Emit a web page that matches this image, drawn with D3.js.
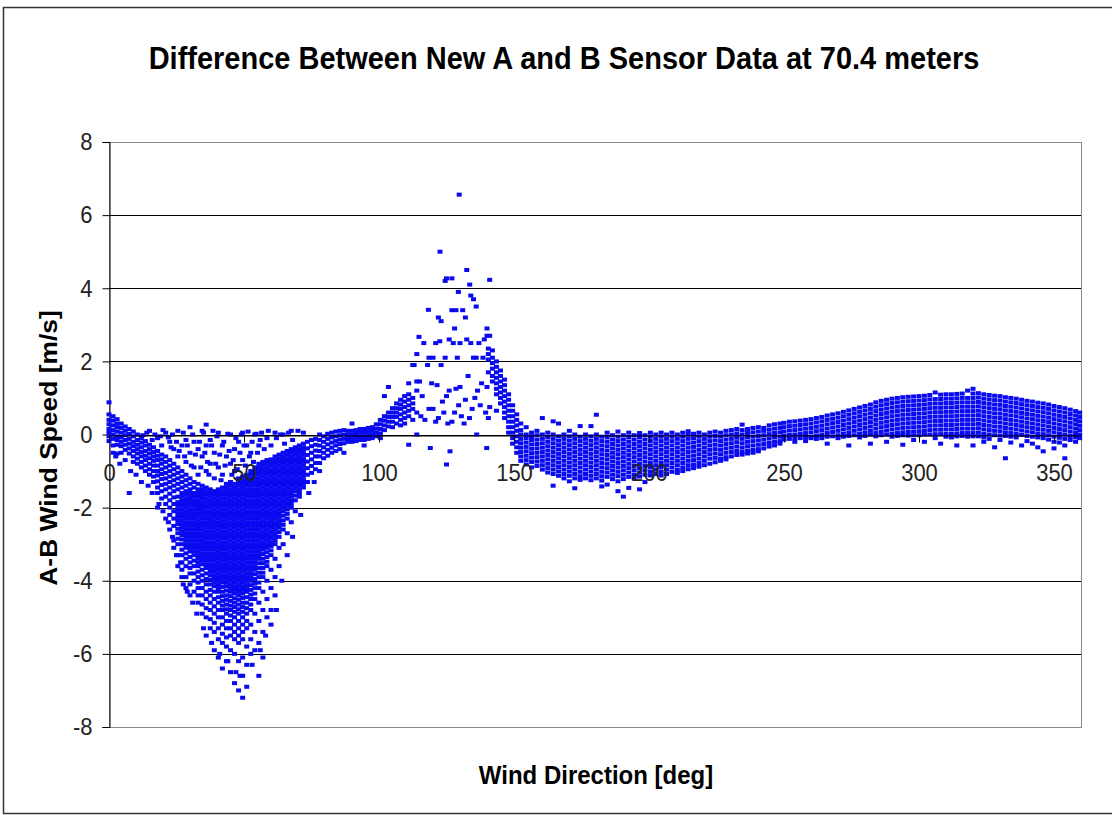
<!DOCTYPE html>
<html>
<head>
<meta charset="utf-8">
<script src="https://cdn.jsdelivr.net/npm/d3@7/dist/d3.min.js"></script>
<style>
  html, body { margin: 0; padding: 0; background: #fff; }
  svg { display: block; font-family: "Liberation Sans", Arial, sans-serif; }
</style>
</head>
<body>
<svg id="chart"></svg>
<script>
// ticks
const xTicks = [0, 50, 100, 150, 200, 250, 300, 350];
const yTicks = [-8, -6, -4, -2, 0, 2, 4, 6, 8];

// scatter, grouped by wind direction column: [deg, [A-B values]]
const dipColumns = [
  [0, [0.88, 0.55, 0.4, 0.28, 0.15, 0.05, -0.05, -0.18]],
  [1.5, [0.5, 0.38, 0.25, 0.12, 0.0, -0.12, -0.3, -0.5]],
  [3, [0.42, 0.3, 0.2, 0.08, -0.05, -0.15, -0.28, -0.52]],
  [4.5, [0.3, 0.18, 0.05, -0.08, -0.2, -0.32, -0.5]],
  [6, [0.22, 0.1, -0.02, -0.15, -0.28, -0.42]],
  [7.5, [0.15, 0.02, -0.12, -0.25, -0.38, -0.52, -1.6]],
  [9, [0.08, -0.05, -0.2, -0.32, -0.45, -0.6, -0.75]],
  [10.5, [0.0, -0.15, -0.28, -0.4, -0.52, -0.66, -0.8]],
  [12, [-0.1, -0.22, -0.35, -0.48, -0.6, -0.75, -0.9, -1.3]],
  [13.5, [-0.18, -0.3, -0.45, -0.58, -0.7, -0.85, -1.0]],
  [15, [0.1, -0.28, -0.4, -0.52, -0.65, -0.8, -0.95, -1.1]],
  [16.5, [-0.35, -0.48, -0.6, -0.72, -0.85, -1.0, -1.15, -1.3]],
  [18, [-0.1, -0.45, -0.58, -0.7, -0.85, -1.0, -1.12, -1.28, -1.45, -1.6, -2.0]],
  [19.5, [-0.3, -0.55, -0.68, -0.8, -0.95, -1.08, -1.22, -1.38, -1.55, -1.75]],
  [21, [0.05, -0.6, -0.75, -0.9, -1.05, -1.2, -1.35, -1.5, -1.7, -1.9, -2.3]],
  [22.5, [-0.2, -0.7, -0.85, -1.0, -1.15, -1.3, -1.45, -1.62, -1.8, -2.0, -2.2, -2.6]],
  [24, [-0.4, -0.8, -0.95, -1.1, -1.25, -1.4, -1.55, -1.72, -1.9, -2.1, -2.3, -2.5, -2.9, -3.1]],
  [25.5, [0.1, -0.6, -0.9, -1.05, -1.2, -1.35, -1.5, -1.7, -1.85, -2.05, -2.25, -2.45, -2.7, -3.0]],
  [27, [-0.3, -1.0, -1.15, -1.3, -1.45, -1.6, -1.8, -1.95, -2.15, -2.35, -2.55, -2.75, -3.0, -3.3, -3.7]],
  [28.5, [-0.15, -0.75, -1.1, -1.25, -1.4, -1.55, -1.75, -1.9, -2.1, -2.3, -2.5, -2.7, -2.9, -3.1, -3.4, -3.9]],
  [30, [0.2, -0.5, -1.2, -1.35, -1.5, -1.7, -1.85, -2.05, -2.2, -2.4, -2.6, -2.8, -3.0, -3.2, -3.5, -3.8]],
  [31.5, [-0.2, -0.9, -1.3, -1.45, -1.6, -1.8, -1.95, -2.15, -2.3, -2.5, -2.7, -2.9, -3.1, -3.3, -3.6, -4.0, -4.3]],
  [33, [-0.4, -1.1, -1.35, -1.5, -1.7, -1.9, -2.05, -2.25, -2.45, -2.6, -2.8, -3.0, -3.2, -3.4, -3.6, -3.9, -4.2, -4.6]],
  [34.5, [0.1, -0.6, -1.4, -1.6, -1.75, -1.95, -2.1, -2.3, -2.5, -2.7, -2.9, -3.05, -3.25, -3.45, -3.7, -4.0, -4.4, -4.9]],
  [36, [0.27, -0.3, -1.0, -1.45, -1.65, -1.85, -2.0, -2.2, -2.4, -2.55, -2.75, -2.95, -3.15, -3.35, -3.55, -3.8, -4.1, -4.5, -5.0, -5.5]],
  [37.5, [-0.15, -0.8, -1.5, -1.7, -1.9, -2.1, -2.3, -2.45, -2.65, -2.85, -3.05, -3.25, -3.45, -3.65, -3.85, -4.1, -4.4, -4.8, -5.3]],
  [39, [-0.5, -1.2, -1.55, -1.75, -1.95, -2.15, -2.35, -2.55, -2.75, -2.95, -3.15, -3.35, -3.55, -3.75, -3.95, -4.15, -4.5, -4.9, -5.4, -5.9]],
  [40.5, [0.05, -0.9, -1.5, -1.7, -1.9, -2.1, -2.3, -2.5, -2.7, -2.9, -3.1, -3.3, -3.5, -3.7, -3.9, -4.1, -4.3, -4.6, -5.0, -5.6, -6.1]],
  [42, [-0.3, -1.1, -1.45, -1.65, -1.85, -2.05, -2.25, -2.45, -2.65, -2.85, -3.05, -3.25, -3.45, -3.65, -3.85, -4.05, -4.3, -4.55, -4.8, -5.2, -5.7, -6.4]],
  [43.5, [-0.6, -1.35, -1.55, -1.75, -1.95, -2.15, -2.35, -2.55, -2.75, -2.95, -3.15, -3.35, -3.55, -3.75, -3.95, -4.15, -4.4, -4.65, -4.9, -5.3, -5.8, -6.2]],
  [45, [0.0, -0.8, -1.3, -1.5, -1.7, -1.9, -2.1, -2.3, -2.5, -2.7, -2.9, -3.1, -3.3, -3.5, -3.7, -3.9, -4.1, -4.3, -4.55, -4.8, -5.1, -5.5, -5.9, -6.5]],
  [46.5, [-0.4, -1.0, -1.35, -1.55, -1.75, -1.95, -2.15, -2.35, -2.55, -2.75, -2.95, -3.15, -3.35, -3.55, -3.75, -3.95, -4.15, -4.35, -4.6, -4.85, -5.2, -5.6, -6.0, -6.8]],
  [48, [-0.2, -1.2, -1.4, -1.6, -1.8, -2.0, -2.2, -2.4, -2.6, -2.8, -3.0, -3.2, -3.4, -3.6, -3.8, -4.0, -4.2, -4.4, -4.65, -4.9, -5.3, -5.7, -6.2, -7.0]],
  [49.5, [0.05, -0.7, -1.15, -1.35, -1.55, -1.75, -1.95, -2.15, -2.35, -2.55, -2.75, -2.95, -3.15, -3.35, -3.55, -3.75, -3.95, -4.15, -4.35, -4.6, -4.85, -5.2, -5.6, -6.1, -6.6, -7.2]],
  [51, [-0.3, -1.1, -1.3, -1.5, -1.7, -1.9, -2.1, -2.3, -2.5, -2.7, -2.9, -3.1, -3.3, -3.5, -3.7, -3.9, -4.1, -4.3, -4.6, -4.9, -5.3, -5.8, -6.3, -6.9]],
  [52.5, [-0.5, -1.0, -1.2, -1.4, -1.6, -1.8, -2.0, -2.2, -2.4, -2.6, -2.8, -3.0, -3.2, -3.4, -3.6, -3.8, -4.0, -4.25, -4.5, -4.8, -5.2, -5.6, -6.0]],
  [54, [0.0, -0.9, -1.1, -1.3, -1.5, -1.7, -1.9, -2.1, -2.3, -2.5, -2.7, -2.9, -3.1, -3.3, -3.5, -3.7, -3.95, -4.2, -4.5, -4.9, -5.4, -5.9]],
  [55.5, [-0.3, -0.8, -1.0, -1.2, -1.4, -1.6, -1.8, -2.0, -2.2, -2.4, -2.6, -2.8, -3.0, -3.2, -3.4, -3.65, -3.9, -4.2, -4.6, -5.1, -5.7, -6.6]],
  [57, [-0.75, -0.95, -1.15, -1.35, -1.55, -1.75, -1.95, -2.15, -2.35, -2.55, -2.75, -2.95, -3.15, -3.4, -3.65, -3.9, -4.3, -4.8, -5.4, -6.1]],
  [58.5, [-0.1, -0.7, -0.9, -1.1, -1.3, -1.5, -1.7, -1.9, -2.1, -2.3, -2.5, -2.7, -2.9, -3.1, -3.35, -3.6, -4.0, -4.5, -5.0]],
  [60, [-0.68, -0.85, -1.05, -1.25, -1.45, -1.65, -1.85, -2.05, -2.25, -2.45, -2.65, -2.85, -3.05, -3.3, -3.7, -4.2, -4.8]],
  [61.5, [0.05, -0.6, -0.8, -1.0, -1.2, -1.4, -1.6, -1.8, -2.0, -2.2, -2.4, -2.6, -2.8, -3.0, -3.4, -3.9, -4.4]],
  [63, [-0.55, -0.75, -0.95, -1.15, -1.35, -1.55, -1.75, -1.95, -2.15, -2.35, -2.55, -2.8, -3.1, -3.6]],
  [64.5, [0.0, -0.5, -0.7, -0.9, -1.1, -1.3, -1.5, -1.7, -1.9, -2.1, -2.35, -2.6, -3.0]],
  [66, [-0.45, -0.65, -0.85, -1.05, -1.25, -1.45, -1.65, -1.85, -2.05, -2.3, -2.7]],
  [67.5, [0.1, -0.4, -0.6, -0.8, -1.0, -1.2, -1.4, -1.6, -1.8, -2.0, -2.4]],
  [69, [-0.35, -0.55, -0.75, -0.95, -1.15, -1.35, -1.55, -1.8, -2.1]],
  [70.5, [-0.3, -0.5, -0.7, -0.9, -1.1, -1.3, -1.5, -1.7]],
  [72, [0.05, -0.25, -0.45, -0.65, -0.85, -1.05, -1.25, -1.45]],
  [73.5, [-0.2, -0.38, -0.56, -0.74, -0.92, -1.1, -1.3]],
  [75, [-0.15, -0.32, -0.5, -0.68, -0.86, -1.05]],
  [76.5, [-0.12, -0.28, -0.44, -0.6, -0.78, -0.95]],
  [78, [0.0, -0.15, -0.3, -0.45, -0.6, -0.78]],
  [79.5, [-0.05, -0.2, -0.35, -0.5, -0.65]],
  [81, [0.02, -0.12, -0.27, -0.42, -0.58]],
  [82.5, [0.05, -0.08, -0.22, -0.36, -0.5]],
  [84, [0.08, -0.05, -0.18, -0.3, -0.45]],
  [85.5, [0.1, -0.02, -0.14, -0.26, -0.4]],
  [87, [0.12, 0.0, -0.12, -0.24, -0.5]]
];

// the packed core of the dip, between the rows above
const dipCoreColumns = [
  [25.5, [-1.95, -2.15, -2.35, -2.58, -2.85, -3.3, -3.6]],
  [27, [-1.7, -1.87, -2.05, -2.25, -2.45, -2.65, -2.87, -3.15, -3.5, -3.9]],
  [28.5, [-1.65, -1.83, -2.0, -2.2, -2.4, -2.6, -2.8, -3.0, -3.25, -3.6, -4.2]],
  [30, [-1.6, -1.78, -1.95, -2.12, -2.3, -2.5, -2.7, -2.9, -3.1, -3.35, -3.65, -4.1, -4.4]],
  [31.5, [-1.7, -1.88, -2.05, -2.22, -2.4, -2.6, -2.8, -3.0, -3.2, -3.45, -3.8]],
  [33, [-1.6, -1.8, -1.98, -2.15, -2.35, -2.52, -2.7, -2.9, -3.1, -3.3, -3.5, -3.75, -4.05, -4.4]],
  [34.5, [-1.5, -1.68, -1.85, -2.02, -2.2, -2.4, -2.6, -2.8, -2.98, -3.15, -3.35, -3.55, -3.85, -4.2, -4.65]],
  [36, [-1.55, -1.75, -1.92, -2.1, -2.3, -2.48, -2.65, -2.85, -3.05, -3.25, -3.45, -3.65, -3.95, -4.3, -4.75]],
  [37.5, [-1.6, -1.8, -2.0, -2.2, -2.38, -2.55, -2.75, -2.95, -3.15, -3.35, -3.55, -3.75, -3.97, -4.25, -4.6, -5.05]],
  [39, [-1.65, -1.85, -2.05, -2.25, -2.45, -2.65, -2.85, -3.05, -3.25, -3.45, -3.65, -3.85, -4.05, -4.3, -4.7, -5.15]],
  [40.5, [-1.6, -1.8, -2.0, -2.2, -2.4, -2.6, -2.8, -3.0, -3.2, -3.4, -3.6, -3.8, -4.0, -4.2, -4.45, -4.8, -5.3]],
  [42, [-1.55, -1.75, -1.95, -2.15, -2.35, -2.55, -2.75, -2.95, -3.15, -3.35, -3.55, -3.75, -3.95, -4.17, -4.42, -4.68, -5.0, -5.45]],
  [43.5, [-1.45, -1.65, -1.85, -2.05, -2.25, -2.45, -2.65, -2.85, -3.05, -3.25, -3.45, -3.65, -3.85, -4.05, -4.27, -4.52, -4.78, -5.1, -5.55]],
  [45, [-1.4, -1.6, -1.8, -2.0, -2.2, -2.4, -2.6, -2.8, -3.0, -3.2, -3.4, -3.6, -3.8, -4.0, -4.2, -4.42, -4.68, -4.95, -5.3]],
  [46.5, [-1.45, -1.65, -1.85, -2.05, -2.25, -2.45, -2.65, -2.85, -3.05, -3.25, -3.45, -3.65, -3.85, -4.05, -4.25, -4.48, -4.72, -5.0, -5.4]],
  [48, [-1.3, -1.5, -1.7, -1.9, -2.1, -2.3, -2.5, -2.7, -2.9, -3.1, -3.3, -3.5, -3.7, -3.9, -4.1, -4.3, -4.52, -4.78, -5.1, -5.5]],
  [49.5, [-1.25, -1.45, -1.65, -1.85, -2.05, -2.25, -2.45, -2.65, -2.85, -3.05, -3.25, -3.45, -3.65, -3.85, -4.05, -4.25, -4.47, -4.72, -5.0, -5.4]],
  [51, [-1.2, -1.4, -1.6, -1.8, -2.0, -2.2, -2.4, -2.6, -2.8, -3.0, -3.2, -3.4, -3.6, -3.8, -4.0, -4.2, -4.45, -4.75, -5.1]],
  [52.5, [-1.1, -1.3, -1.5, -1.7, -1.9, -2.1, -2.3, -2.5, -2.7, -2.9, -3.1, -3.3, -3.5, -3.7, -3.9, -4.12, -4.38, -4.65]],
  [54, [-1.0, -1.2, -1.4, -1.6, -1.8, -2.0, -2.2, -2.4, -2.6, -2.8, -3.0, -3.2, -3.4, -3.6, -3.82, -4.08, -4.35]],
  [55.5, [-0.9, -1.1, -1.3, -1.5, -1.7, -1.9, -2.1, -2.3, -2.5, -2.7, -2.9, -3.1, -3.3, -3.52, -3.78, -4.05]],
  [57, [-0.85, -1.05, -1.25, -1.45, -1.65, -1.85, -2.05, -2.25, -2.45, -2.65, -2.85, -3.05, -3.27, -3.52, -3.78]],
  [58.5, [-0.8, -1.0, -1.2, -1.4, -1.6, -1.8, -2.0, -2.2, -2.4, -2.6, -2.8, -3.0, -3.22, -3.48]],
  [60, [-0.76, -0.95, -1.15, -1.35, -1.55, -1.75, -1.95, -2.15, -2.35, -2.55, -2.75, -2.95, -3.17]],
  [61.5, [-0.7, -0.9, -1.1, -1.3, -1.5, -1.7, -1.9, -2.1, -2.3, -2.5, -2.7, -2.9]],
  [63, [-0.65, -0.85, -1.05, -1.25, -1.45, -1.65, -1.85, -2.05, -2.25, -2.45, -2.67]],
  [64.5, [-0.6, -0.8, -1.0, -1.2, -1.4, -1.6, -1.8, -2.0, -2.22, -2.47]],
  [66, [-0.55, -0.75, -0.95, -1.15, -1.35, -1.55, -1.75, -1.95, -2.17]],
  [67.5, [-0.5, -0.7, -0.9, -1.1, -1.3, -1.5, -1.7, -1.9]],
  [69, [-0.45, -0.65, -0.85, -1.05, -1.25, -1.45, -1.67]],
  [70.5, [-0.4, -0.6, -0.8, -1.0, -1.2, -1.4, -1.6]],
  [72, [-0.35, -0.55, -0.75, -0.95, -1.15, -1.35]]
];

// loose points around the dip: [deg, value]
const dipScatter = [
  [2.5, -0.6], [4, -0.8], [6, -0.7], [8, -1.0], [10, -1.1], [12.5, -0.02], [14, 0.05], [14.5, -1.4],
  [16, -0.15], [16, -1.6], [17, 0.0], [18.5, -1.9], [19, -0.05], [20, 0.12], [20, -2.1], [22, -0.08],
  [22, -2.4], [23, -0.35], [23.5, 0.0], [23.5, -2.8], [25, -0.2], [25, -3.3], [26, -0.45], [26.5, -3.5],
  [27.5, 0.05], [27.5, -4.1], [28, -0.6], [29, -0.3], [29, -4.3], [30.5, -0.85], [31, 0.0], [31, -4.6],
  [32, -0.55], [32.5, -4.9], [33.5, -0.2], [34, -0.9], [35, 0.05], [35, -5.3], [35.5, -0.5], [36.5, -0.75],
  [37, -1.1], [38, -0.3], [38, -5.7], [38.5, 0.1], [39.5, -0.8], [40, -0.05], [41, -0.55], [41, -6.0],
  [41.5, -1.25], [42.5, -0.2], [43, -0.85], [44, 0.02], [44, -6.2], [44.5, -0.45], [45.5, -1.1], [46, -0.7],
  [47, -0.1], [47, -6.5], [47.5, -0.95], [48.5, -0.5], [48.5, -6.6], [49, 0.0], [50, -0.3], [50.5, -0.85],
  [51.5, 0.08], [52, -0.6], [53, -0.2], [53, -6.3], [53.5, -0.75], [54.5, 0.02], [55, -0.5], [56, -0.15],
  [56, -5.9], [56.5, 0.05], [57.5, -0.4], [58, -5.5], [59, 0.1], [60, -0.3], [60, -5.2], [62, -0.1],
  [62, -4.8], [63.5, 0.0], [64, -4.0], [65, -0.25], [66, -3.3], [66.5, 0.05], [68, -0.15], [68, -2.8],
  [70, 0.1], [71, -2.2], [74, -1.6], [76, -1.3], [78, -1.0]
];

const humpColumns = [
  [88.5, [0.1, 0.0, -0.1, -0.2]],
  [90, [0.3, 0.1, 0.0, -0.1, -0.2]],
  [91.5, [0.12, 0.02, -0.08, -0.18]],
  [93, [0.15, 0.05, -0.05, -0.15]],
  [94.5, [0.15, 0.05, -0.05, -0.15, -0.3]],
  [96, [0.18, 0.08, -0.02, -0.12]],
  [97.5, [0.2, 0.1, 0.0, -0.1]],
  [99, [0.28, 0.16, 0.05, -0.05]],
  [100.5, [0.4, 0.28, 0.15, 0.03, -0.1]],
  [102, [1.05, 0.5, 0.38, 0.25, 0.12]],
  [103.5, [1.3, 0.6, 0.48, 0.35, 0.22]],
  [105, [0.72, 0.6, 0.48, 0.35, 0.2]],
  [106.5, [0.85, 0.72, 0.6, 0.48, 0.3]],
  [108, [0.95, 0.82, 0.7, 0.55, 0.4, 0.25]],
  [109.5, [1.05, 0.9, 0.75, 0.6, 0.45, 0.3]],
  [111, [1.4, 1.1, 0.95, 0.8, 0.65, 0.5, -0.28]],
  [112.5, [1.9, 1.0, 0.85, 0.7, 0.4]],
  [114, [2.2, 1.45, 1.2, 0.6, 0.0]],
  [140.5, [2.35, 2.2, 2.05, 1.7]],
  [142, [2.3, 2.1, 1.95, 1.8, 1.6, 1.45]],
  [143.5, [2.0, 1.85, 1.7, 1.55, 1.4, 1.25, 1.1, 0.65]],
  [145, [1.75, 1.6, 1.45, 1.3, 1.15, 1.0, 0.85]],
  [146.5, [1.5, 1.35, 1.2, 1.05, 0.9, 0.75, 0.6, 0.45]],
  [148, [1.1, 0.95, 0.8, 0.65, 0.5, 0.35, 0.2, 0.05]],
  [149.5, [0.8, 0.65, 0.5, 0.35, 0.2, 0.05, -0.1, -0.25]],
  [151, [0.55, 0.4, 0.25, 0.1, -0.05, -0.2, -0.35, -0.5]]
];

// loose points of the hump between 113 and 142 deg: [deg, value]
const humpScatter = [
  [113, 1.9], [114.8, 2.67], [115, 1.45], [115.5, 0.5], [116, 1.05], [116.6, 2.5], [117, 0.4],
  [118, 1.9], [118.3, 3.41], [118.5, 2.1], [118.5, 0.7], [119, -0.37], [119.5, 1.4],
  [120, 2.1], [120, 0.7], [121, 0.35], [121, 2.5], [121.5, 1.35], [122, 3.2], [122, 0.45],
  [122.5, 2.55], [122.6, 5.0], [123, 3.1], [123, 1.9], [123.5, 0.9], [124, 0.6], [124.5, 4.2],
  [124.5, 2.1], [125, 4.27], [125, 1.05], [125, -0.82], [125.5, 0.3], [126, 1.2], [126, 2.6],
  [126.3, -0.46], [127, 4.27], [127, 3.4], [127, 0.35], [127.5, 2.5], [128, 2.9], [128, 0.6],
  [128.5, 3.4], [128.5, 1.25], [129, 2.1], [129.4, 3.9], [129.5, 0.8], [129.7, 6.56], [130, 1.3],
  [130, 2.5], [130.5, 0.5], [131, 3.4], [131.5, 0.3], [132, 3.2], [132, 0.95], [132.5, 4.5],
  [132.5, 2.6], [133, 1.6], [133.5, 0.45], [133.6, 4.1], [134, 3.8], [134, 2.5], [134.5, 0.7],
  [135, 3.7], [135, 2.1], [135.5, 1.0], [136, 3.5], [136, 2.1], [136.2, 0.0], [136.5, 1.2],
  [137, 2.5], [137.5, 0.8], [138, 1.4], [138.5, 2.1], [139, 2.6], [139.5, 0.6], [139.9, -0.37],
  [140, 2.9], [140, 2.7], [140, 1.3], [140.5, 0.45], [141, 4.23], [141, 2.7], [141, 0.75]
];

const troughColumns = [
  [152.5, [0.3, 0.12, 0.0, -0.12, -0.24, -0.36, -0.48, -0.6, -0.72]],
  [154.5, [0.2, 0.0, -0.1, -0.22, -0.34, -0.46, -0.58, -0.7, -0.82]],
  [156.5, [0.05, -0.05, -0.15, -0.27, -0.39, -0.51, -0.63, -0.75, -0.9]],
  [158.5, [0.1, -0.02, -0.14, -0.26, -0.38, -0.5, -0.62, -0.74, -0.86]],
  [160.5, [0.45, 0.0, -0.12, -0.24, -0.36, -0.48, -0.6, -0.72, -0.84, -0.96]],
  [162.5, [0.05, -0.08, -0.2, -0.32, -0.44, -0.56, -0.68, -0.8, -0.92, -1.04]],
  [164.5, [0.36, 0.0, -0.12, -0.24, -0.36, -0.48, -0.6, -0.72, -0.84, -0.96, -1.08, -1.4]],
  [166.5, [0.3, -0.05, -0.17, -0.29, -0.41, -0.53, -0.65, -0.77, -0.89, -1.01, -1.13]],
  [168.5, [0.0, -0.12, -0.24, -0.36, -0.48, -0.6, -0.72, -0.84, -0.96, -1.08, -1.2]],
  [170.5, [0.1, -0.05, -0.17, -0.29, -0.41, -0.53, -0.65, -0.77, -0.89, -1.01, -1.13, -1.28]],
  [172.5, [0.0, -0.12, -0.24, -0.36, -0.48, -0.6, -0.72, -0.84, -0.96, -1.08, -1.2, -1.47]],
  [174.5, [0.23, -0.06, -0.18, -0.3, -0.42, -0.54, -0.66, -0.78, -0.9, -1.02, -1.14, -1.24]],
  [176.5, [0.0, -0.12, -0.24, -0.36, -0.48, -0.6, -0.72, -0.84, -0.96, -1.08, -1.2]],
  [178.5, [0.23, -0.05, -0.17, -0.29, -0.41, -0.53, -0.65, -0.77, -0.89, -1.01, -1.13, -1.25]],
  [180.5, [0.54, 0.0, -0.12, -0.24, -0.36, -0.48, -0.6, -0.72, -0.84, -0.96, -1.08, -1.2]],
  [182.5, [-0.06, -0.18, -0.3, -0.42, -0.54, -0.66, -0.78, -0.9, -1.02, -1.14, -1.26, -1.42]],
  [184.5, [0.05, -0.08, -0.2, -0.32, -0.44, -0.56, -0.68, -0.8, -0.92, -1.04, -1.16, -1.37]],
  [186.5, [-0.02, -0.14, -0.26, -0.38, -0.5, -0.62, -0.74, -0.86, -0.98, -1.1, -1.22]],
  [188.5, [0.08, -0.06, -0.18, -0.3, -0.42, -0.54, -0.66, -0.78, -0.9, -1.02, -1.14, -1.28, -1.55]],
  [190.5, [-0.02, -0.14, -0.26, -0.38, -0.5, -0.62, -0.74, -0.86, -0.98, -1.1, -1.22, -1.7]],
  [192.5, [0.05, -0.08, -0.2, -0.32, -0.44, -0.56, -0.68, -0.8, -0.92, -1.04, -1.16, -1.46]],
  [194.5, [-0.02, -0.14, -0.26, -0.38, -0.5, -0.62, -0.74, -0.86, -0.98, -1.1, -1.2]],
  [196.5, [0.04, -0.08, -0.2, -0.32, -0.44, -0.56, -0.68, -0.8, -0.92, -1.04, -1.15, -1.5]],
  [198.5, [-0.02, -0.14, -0.26, -0.38, -0.5, -0.62, -0.74, -0.86, -0.98, -1.1, -1.3]],
  [200.5, [0.05, -0.06, -0.18, -0.3, -0.42, -0.54, -0.66, -0.78, -0.9, -1.02, -1.12]],
  [202.5, [0.0, -0.12, -0.24, -0.36, -0.48, -0.6, -0.72, -0.84, -0.96, -1.08]],
  [204.5, [0.05, -0.06, -0.18, -0.3, -0.42, -0.54, -0.66, -0.78, -0.9, -1.02, -1.12]],
  [206.5, [0.0, -0.12, -0.24, -0.36, -0.48, -0.6, -0.72, -0.84, -0.96, -1.08]],
  [208.5, [0.05, -0.06, -0.18, -0.3, -0.42, -0.54, -0.66, -0.78, -0.9, -1.02]],
  [210.5, [0.0, -0.12, -0.24, -0.36, -0.48, -0.6, -0.72, -0.84, -0.96, -1.05]],
  [212.5, [0.05, -0.06, -0.18, -0.3, -0.42, -0.54, -0.66, -0.78, -0.9, -1.0]],
  [214.5, [0.09, 0.0, -0.12, -0.24, -0.36, -0.48, -0.6, -0.72, -0.84, -0.95]],
  [216.5, [0.02, -0.1, -0.22, -0.34, -0.46, -0.58, -0.7, -0.82, -0.92]],
  [218.5, [0.05, -0.06, -0.18, -0.3, -0.42, -0.54, -0.66, -0.78, -0.88]],
  [220.5, [0.0, -0.12, -0.24, -0.36, -0.48, -0.6, -0.72, -0.84]],
  [222.5, [0.05, -0.06, -0.18, -0.3, -0.42, -0.54, -0.66, -0.8]],
  [224.5, [0.08, -0.04, -0.16, -0.28, -0.4, -0.52, -0.64, -0.76]],
  [226.5, [0.05, -0.06, -0.18, -0.3, -0.42, -0.54, -0.66, -0.72]],
  [228.5, [0.1, -0.02, -0.14, -0.26, -0.38, -0.5, -0.62, -0.68]],
  [230.5, [0.12, 0.0, -0.12, -0.24, -0.36, -0.48, -0.6]],
  [232.5, [0.15, 0.03, -0.09, -0.21, -0.33, -0.45, -0.56]],
  [234.5, [0.27, 0.12, 0.0, -0.12, -0.24, -0.36, -0.48, -0.55]],
  [236.5, [0.15, 0.04, -0.08, -0.2, -0.32, -0.44, -0.52]],
  [238.5, [0.18, 0.06, -0.06, -0.18, -0.3, -0.42, -0.5]],
  [240.5, [0.2, 0.08, -0.04, -0.16, -0.28, -0.4, -0.46]],
  [242.5, [0.18, 0.1, -0.02, -0.14, -0.26, -0.38]],
  [244.5, [0.25, 0.13, 0.01, -0.11, -0.23, -0.33]],
  [246.5, [0.28, 0.16, 0.04, -0.08, -0.2, -0.3]],
  [248.5, [0.3, 0.18, 0.06, -0.06, -0.18, -0.25]],
  [250, [0.32, 0.2, 0.08, -0.04, -0.14]]
];

const riseColumns = [
  [252, [0.35, 0.23, 0.11, -0.01, -0.12]],
  [254, [0.36, 0.24, 0.12, 0.0, -0.1, -0.2]],
  [256, [0.38, 0.26, 0.14, 0.02, -0.1]],
  [258, [0.4, 0.28, 0.16, 0.04, -0.08, -0.18]],
  [260, [0.42, 0.3, 0.18, 0.06, -0.06, -0.1]],
  [262, [0.45, 0.33, 0.21, 0.09, -0.03, -0.12]],
  [264, [0.48, 0.36, 0.24, 0.12, 0.0, -0.1]],
  [266, [0.52, 0.4, 0.28, 0.16, 0.04, -0.06, -0.25]],
  [268, [0.55, 0.43, 0.31, 0.19, 0.07, -0.05]],
  [270, [0.58, 0.46, 0.34, 0.22, 0.1, -0.02, -0.1]],
  [272, [0.62, 0.5, 0.38, 0.26, 0.14, 0.02, -0.06]],
  [274, [0.66, 0.54, 0.42, 0.3, 0.18, 0.06, -0.04, -0.3]],
  [276, [0.7, 0.58, 0.46, 0.34, 0.22, 0.1, -0.02]],
  [278, [0.74, 0.62, 0.5, 0.38, 0.26, 0.14, 0.02, -0.08]],
  [280, [0.78, 0.66, 0.54, 0.42, 0.3, 0.18, 0.06, -0.04]],
  [282, [0.82, 0.7, 0.58, 0.46, 0.34, 0.22, 0.1, 0.0, -0.25]],
  [284, [0.88, 0.76, 0.64, 0.52, 0.4, 0.28, 0.16, 0.04, -0.05]],
  [286, [0.92, 0.8, 0.68, 0.56, 0.44, 0.32, 0.2, 0.08, -0.02]],
  [288, [0.95, 0.83, 0.71, 0.59, 0.47, 0.35, 0.23, 0.11, 0.0, -0.2]],
  [290, [0.98, 0.86, 0.74, 0.62, 0.5, 0.38, 0.26, 0.14, 0.02, -0.06]],
  [292, [1.0, 0.88, 0.76, 0.64, 0.52, 0.4, 0.28, 0.16, 0.04, -0.04]],
  [294, [1.02, 0.9, 0.78, 0.66, 0.54, 0.42, 0.3, 0.18, 0.06, -0.02, -0.28]],
  [296, [1.03, 0.91, 0.79, 0.67, 0.55, 0.43, 0.31, 0.19, 0.07, -0.03]],
  [298, [1.04, 0.92, 0.8, 0.68, 0.56, 0.44, 0.32, 0.2, 0.08, -0.02, -0.15]],
  [300, [1.05, 0.93, 0.81, 0.69, 0.57, 0.45, 0.33, 0.21, 0.09, -0.02]],
  [302, [1.06, 0.94, 0.82, 0.7, 0.58, 0.46, 0.34, 0.22, 0.1, 0.0, -0.2]],
  [304, [1.08, 0.96, 0.84, 0.72, 0.6, 0.48, 0.36, 0.24, 0.12, 0.0]],
  [306, [1.15, 0.97, 0.85, 0.73, 0.61, 0.49, 0.37, 0.25, 0.13, 0.01, -0.1]],
  [308, [1.09, 0.97, 0.85, 0.73, 0.61, 0.49, 0.37, 0.25, 0.13, 0.01, -0.25]],
  [310, [1.1, 0.98, 0.86, 0.74, 0.62, 0.5, 0.38, 0.26, 0.14, 0.02, -0.06]],
  [312, [1.1, 0.98, 0.86, 0.74, 0.62, 0.5, 0.38, 0.26, 0.14, 0.02, -0.08]],
  [314, [1.11, 0.99, 0.87, 0.75, 0.63, 0.51, 0.39, 0.27, 0.15, 0.03, -0.05, -0.3]],
  [316, [1.12, 1.0, 0.88, 0.76, 0.64, 0.52, 0.4, 0.28, 0.16, 0.04, -0.04]],
  [318, [1.2, 1.0, 0.88, 0.76, 0.64, 0.52, 0.4, 0.28, 0.16, 0.04, -0.06]],
  [320, [1.25, 1.12, 1.0, 0.88, 0.76, 0.64, 0.52, 0.4, 0.28, 0.16, 0.04, -0.05, -0.3]],
  [322, [1.13, 1.01, 0.89, 0.77, 0.65, 0.53, 0.41, 0.29, 0.17, 0.05, -0.05]],
  [324, [1.1, 0.98, 0.86, 0.74, 0.62, 0.5, 0.38, 0.26, 0.14, 0.02, -0.08, -0.2]],
  [326, [1.08, 0.96, 0.84, 0.72, 0.6, 0.48, 0.36, 0.24, 0.12, 0.0, -0.12]],
  [328, [1.06, 0.94, 0.82, 0.7, 0.58, 0.46, 0.34, 0.22, 0.1, -0.02, -0.35]],
  [330, [1.05, 0.93, 0.81, 0.69, 0.57, 0.45, 0.33, 0.21, 0.09, -0.03, -0.15]],
  [332, [1.02, 0.9, 0.78, 0.66, 0.54, 0.42, 0.3, 0.18, 0.06, -0.04, -0.65]],
  [334, [1.0, 0.88, 0.76, 0.64, 0.52, 0.4, 0.28, 0.16, 0.04, -0.06, -0.22]],
  [336, [0.98, 0.86, 0.74, 0.62, 0.5, 0.38, 0.26, 0.14, 0.02, -0.08]],
  [338, [0.95, 0.83, 0.71, 0.59, 0.47, 0.35, 0.23, 0.11, -0.01, -0.3]],
  [340, [0.92, 0.8, 0.68, 0.56, 0.44, 0.32, 0.2, 0.08, -0.04, -0.18]],
  [342, [0.9, 0.78, 0.66, 0.54, 0.42, 0.3, 0.18, 0.06, -0.06, -0.25]],
  [344, [0.87, 0.75, 0.63, 0.51, 0.39, 0.27, 0.15, 0.03, -0.08, -0.35]],
  [346, [0.85, 0.73, 0.61, 0.49, 0.37, 0.25, 0.13, 0.01, -0.1, -0.46]],
  [348, [0.82, 0.7, 0.58, 0.46, 0.34, 0.22, 0.1, -0.02, -0.14]],
  [350, [0.78, 0.66, 0.54, 0.42, 0.3, 0.18, 0.06, -0.06, -0.2, -0.38]],
  [352, [0.75, 0.63, 0.51, 0.39, 0.27, 0.15, 0.03, -0.09, -0.22]],
  [354, [0.72, 0.6, 0.48, 0.36, 0.24, 0.12, 0.0, -0.12, -0.3, -0.65]],
  [356, [0.68, 0.56, 0.44, 0.32, 0.2, 0.08, -0.04, -0.15]],
  [358, [0.64, 0.52, 0.4, 0.28, 0.16, 0.04, -0.08, -0.2]],
  [359.5, [0.6, 0.48, 0.36, 0.24, 0.12, 0.0, -0.1]]
];

const columnsToPoints = cols => cols.flatMap(([dir, vals]) => vals.map(v => ({dir, diff: v})));
const pairsToPoints = pairs => pairs.map(([dir, diff]) => ({dir, diff}));
const points = [
  ...columnsToPoints(dipColumns),
  ...columnsToPoints(dipCoreColumns),
  ...pairsToPoints(dipScatter),
  ...columnsToPoints(humpColumns),
  ...pairsToPoints(humpScatter),
  ...columnsToPoints(troughColumns),
  ...columnsToPoints(riseColumns)
];

const width = 1112;
const height = 815;
const margin = {top: 142, right: 31, bottom: 88, left: 109};
const stretch = 1.1; // the source text is a little taller than it is wide

const x = d3.scaleLinear()
    .domain([0, 360])
    .range([margin.left, width - margin.right]);

const y = d3.scaleLinear()
    .domain([-8, 8])
    .range([height - margin.bottom, margin.top]);

const svg = d3.select('#chart')
    .attr("width", width)
    .attr("height", height);

// outer chart border
svg.append("rect")
    .attr("x", 3.5).attr("y", 7.5)
    .attr("width", width + 10).attr("height", 806)
    .attr("fill", "none")
    .attr("stroke", "#333")
    .attr("stroke-width", 1.5);

// title
svg.append("text")
    .attr("transform", `translate(564,69) scale(1,${stretch})`)
    .attr("text-anchor", "middle")
    .attr("font-size", 29)
    .attr("font-weight", "bold")
    .text("Difference Between New A and B Sensor Data at 70.4 meters");

// plot area border
svg.append("rect")
    .attr("x", margin.left + 0.5).attr("y", margin.top + 0.5)
    .attr("width", width - margin.right - margin.left)
    .attr("height", height - margin.bottom - margin.top)
    .attr("fill", "none")
    .attr("stroke", "#888");

// gridlines
svg.append("g")
    .selectAll("line")
    .data(yTicks.filter(d => d !== 8 && d !== -8))
    .join("line")
    .attr("x1", margin.left).attr("x2", width - margin.right)
    .attr("y1", d => Math.round(y(d)) + 0.5).attr("y2", d => Math.round(y(d)) + 0.5)
    .attr("stroke", "#000");

const yAxis = g => g
    .attr("transform", `translate(${margin.left + 0.5},0)`)
    .call(d3.axisLeft(y).tickValues(yTicks).tickSize(7).tickPadding(10).tickFormat(d => String(d)))
    .call(g => g.selectAll(".tick line").attr("stroke", "#000"))
    .call(g => g.select(".domain").attr("stroke", "#000"))
    .call(g => g.selectAll(".tick text")
        .attr("font-size", 22)
        .attr("fill", "#222")
        .attr("transform", `scale(1,${stretch})`)
        .attr("font-family", "Liberation Sans, Arial, sans-serif"));

const xAxis = g => g
    .attr("transform", `translate(0,${Math.round(y(0)) + 0.5})`)
    .call(d3.axisBottom(x).tickValues(xTicks).tickSize(7).tickPadding(19).tickSizeOuter(0).tickFormat(d => String(d)))
    .call(g => g.select(".domain").attr("stroke", "#000"))
    .call(g => g.selectAll(".tick line").attr("stroke", "#000"))
    .call(g => g.selectAll(".tick text")
        .attr("font-size", 22)
        .attr("fill", "#222")
        .attr("transform", `scale(1,${stretch})`)
        .attr("font-family", "Liberation Sans, Arial, sans-serif"));

svg.append("g").call(yAxis);

// points
svg.append("g")
    .selectAll("rect")
    .data(points)
    .join("rect")
    .attr("x", d => x(d.dir) - 2.5)
    .attr("y", d => y(d.diff) - 2)
    .attr("width", 5)
    .attr("height", 4)
    .attr("fill", "#0a0af0");

// the category labels sit on top of the cloud, as in the source
svg.append("g").call(xAxis);

// axis titles
svg.append("text")
    .attr("transform", `translate(57,448) rotate(-90) scale(${stretch},1)`)
    .attr("text-anchor", "middle")
    .attr("font-size", 24)
    .attr("font-weight", "bold")
    .text("A-B Wind Speed [m/s]");

svg.append("text")
    .attr("transform", `translate(596,784) scale(1,${stretch})`)
    .attr("text-anchor", "middle")
    .attr("font-size", 24)
    .attr("font-weight", "bold")
    .text("Wind Direction [deg]");
</script>
</body>
</html>
